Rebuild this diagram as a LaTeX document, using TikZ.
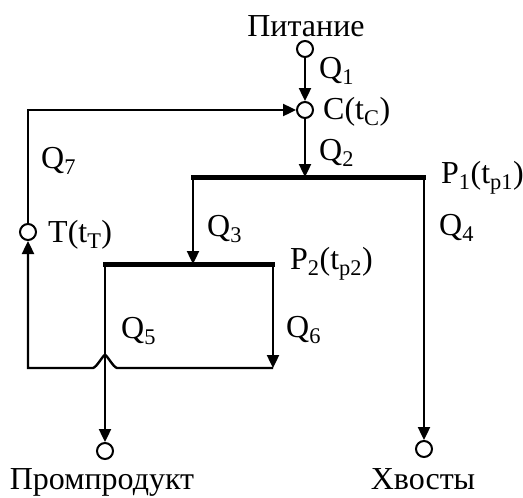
\documentclass[tikz,border=0pt]{standalone}
\usepackage{fontspec}
\setmainfont{Liberation Serif}
\usetikzlibrary{arrows.meta}
\tikzset{
  dot/.style={circle,draw,line width=2pt,minimum size=16pt,inner sep=0pt,fill=white},
  wire/.style={line width=2.4pt},
  arr/.style={wire,-{Triangle[length=13pt,width=12pt]}},
  bar/.style={line width=5pt},
  lbl/.style={inner sep=0pt,font=\fontsize{32}{36}\selectfont,anchor=west},
  ttl/.style={inner sep=0pt,font=\fontsize{32}{36}\selectfont,anchor=base}
}
\newcommand\sbs[1]{\textsubscript{#1}}
\begin{document}
\begin{tikzpicture}[x=1pt,y=-1pt]
\useasboundingbox (0,0) rectangle (523,498);
% nodes
\node[dot] (pit) at (305,49) {};
\node[dot] (c) at (305,110) {};
\node[dot] (t) at (28,232) {};
\node[dot] (prom) at (105,451) {};
\node[dot] (xv) at (424,449) {};
\coordinate (p1l) at (193,177);
\coordinate (p1r) at (424,177);
\coordinate (p1m) at (305,177);
\coordinate (p2l) at (105,264);
\coordinate (p2r) at (273,264);
\coordinate (p2m) at (193,264);
\coordinate (ret) at (273,368);
\coordinate (hopR) at (117,368);
\coordinate (hopL) at (93,368);
\coordinate (corner) at (28,368);
\coordinate (topc) at (28,110);
% connectors
\draw[arr] (pit) -- (c);
\draw[arr] (c) -- (p1m);
\draw[arr] (p1l) -- (p2m);
\draw[arr] (p1r) -- (xv);
\draw[arr] (p2l) -- (prom);
\draw[arr] (p2r) -- (ret);
\draw[arr] (ret) -- (hopR) .. controls (113,367) and (107,355) .. (105,355) .. controls (103,355) and (97,367) .. (hopL) -- (corner) -- (t);
\draw[arr] (t) -- (topc) -- (c);
\draw[bar] ([xshift=-1.8pt]p1l) -- ([xshift=1.8pt]p1r);
\draw[bar] ([xshift=-1.8pt]p2l) -- ([xshift=1.8pt]p2r);
% labels
\node[ttl] (lpit) at (306,36) {Питание};
\node[ttl] (lprom) at (102,489) {Промпродукт};
\node[ttl] (lxv) at (423,489) {Хвосты};
\node[lbl] (lq1) at (319,71) {Q\sbs{1}};
\node[lbl] (lc) at (323,112) {C(t\sbs{C})};
\node[lbl] (lq2) at (319,153) {Q\sbs{2}};
\node[lbl] (lq7) at (41,161) {Q\sbs{7}};
\node[lbl] (lp1) at (441,178) {P\sbs{1}(t\sbs{p1})};
\node[lbl] (lq3) at (207,229) {Q\sbs{3}};
\node[lbl] (lq4) at (439,228) {Q\sbs{4}};
\node[lbl] (lt) at (48,235) {T(t\sbs{T})};
\node[lbl] (lp2) at (290,264) {P\sbs{2}(t\sbs{p2})};
\node[lbl] (lq5) at (121,331) {Q\sbs{5}};
\node[lbl] (lq6) at (286,330) {Q\sbs{6}};
\end{tikzpicture}
\end{document}
